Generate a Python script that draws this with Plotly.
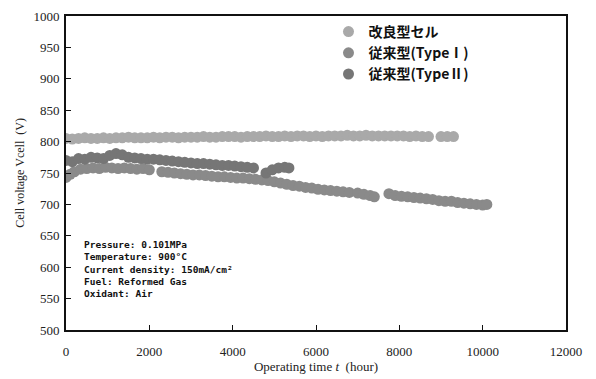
import plotly.graph_objects as go

# 改良型セル
hours_a = [0, 150, 300, 450, 600, 750, 900, 1050, 1200, 1350, 1500, 1650, 1800, 1950,
           2100, 2250, 2400, 2550, 2700, 2850, 3000, 3150, 3300, 3450, 3600, 3750, 3900,
           4050, 4200, 4350, 4500, 4650, 4800, 4950, 5100, 5250, 5400, 5550, 5700, 5850,
           6000, 6150, 6300, 6450, 6600, 6750, 6900, 7050, 7200, 7350, 7500, 7650, 7800,
           7950, 8100, 8250, 8400, 8550, 8700, 9000, 9150, 9300]
volt_a = [805, 804, 805, 806, 805, 805, 806, 805, 806, 806, 807, 806, 806, 806,
          807, 806, 807, 807, 806, 807, 807, 807, 808, 807, 807, 808, 808,
          808, 807, 808, 808, 808, 809, 808, 808, 809, 808, 809, 809, 808,
          809, 808, 809, 809, 809, 810, 809, 809, 810, 809, 809, 809, 809,
          809, 809, 808, 809, 808, 808, 808, 808, 808]

# 従来型(Type I)
hours_b = [0, 100, 200, 350, 500, 650, 800, 950, 1100, 1250, 1400, 1550, 1700, 1850, 2000,
           2300, 2450, 2600, 2750, 2900, 3050, 3200, 3350, 3500, 3650, 3800, 3950, 4100,
           4250, 4400, 4550, 4700, 4850, 5000, 5150, 5300, 5450, 5600, 5750, 5900, 6050,
           6200, 6350, 6500, 6650, 6800, 7000, 7150, 7300, 7400,
           7750, 7900, 8050, 8200, 8350, 8500, 8650, 8800, 8950, 9100, 9250, 9400, 9550,
           9700, 9850, 10000, 10100]
volt_b = [743, 748, 752, 756, 757, 758, 757, 759, 758, 757, 758, 757, 756, 757, 755,
          752, 751, 750, 749, 748, 747, 747, 746, 745, 744, 744, 743, 742,
          742, 741, 740, 739, 738, 736, 734, 732, 730, 729, 727, 726, 724,
          723, 722, 721, 720, 719, 718, 716, 714, 712,
          717, 714, 713, 712, 711, 710, 709, 708, 706, 705, 705, 703, 702,
          701, 700, 699, 700]

# 従来型(Type II)
hours_c = [0, 150, 300, 450, 600, 750, 900, 1050, 1200, 1350, 1500, 1650, 1800, 1950,
           2100, 2250, 2400, 2550, 2700, 2850, 3000, 3150, 3300, 3450, 3600, 3750, 3900,
           4050, 4200, 4350, 4500, 4800, 4950, 5100, 5250, 5350]
volt_c = [770, 768, 773, 772, 775, 774, 773, 778, 781, 779, 775, 774, 773, 772,
          772, 771, 770, 769, 768, 767, 766, 765, 765, 764, 763, 762, 762,
          761, 760, 759, 758, 750, 755, 758, 759, 758]

names = ["<b>改良型セル</b>", "<b>従来型(TypeⅠ)</b>", "<b>従来型(TypeⅡ)</b>"]
x_ticks = [0, 2000, 4000, 6000, 8000, 10000, 12000]
x_tick_text = ["0", "2000", "4000", "6000", "8000", "10000", "12000"]
y_ticks = [500, 550, 600, 650, 700, 750, 800, 850, 900, 950, 1000]

conditions = ["Pressure: 0.101MPa", "Temperature: 900°C", "Current density: 150mA/cm²",
              "Fuel: Reformed Gas", "Oxidant: Air"]

colors = ["#a9a9a9", "#8a8a8a", "#767676"]

fig = go.Figure()
for hx, vy, nm, col in [(hours_a, volt_a, names[0], colors[0]),
                        (hours_b, volt_b, names[1], colors[1]),
                        (hours_c, volt_c, names[2], colors[2])]:
    fig.add_trace(go.Scatter(x=hx, y=vy, mode="markers", name=nm,
                             marker=dict(size=11, color=col, line=dict(width=0))))

fig.add_annotation(x=0.032, y=0.297, xref="paper", yref="paper", xanchor="left", yanchor="top",
                   text="<br>".join("<b>" + c + "</b>" for c in conditions),
                   showarrow=False, align="left",
                   font=dict(family="DejaVu Sans Mono", size=9.5, color="#111"))

serif = "Liberation Serif"
fig.update_layout(
    width=596, height=379,
    margin=dict(l=66, r=30, t=9, b=47),
    paper_bgcolor="white", plot_bgcolor="white",
    showlegend=True,
    legend=dict(x=0.525, y=1.0, xanchor="left", yanchor="top",
                bgcolor="rgba(0,0,0,0)", tracegroupgap=0,
                font=dict(family="Noto Sans CJK JP", size=14, color="#111"),
                itemwidth=30),
    xaxis=dict(range=[0, 12000], tickvals=x_ticks, ticktext=x_tick_text,
               ticks="inside", ticklen=5, tickcolor="#111",
               showline=True, linecolor="#111", linewidth=2, mirror=True,
               showgrid=False, zeroline=False, ticklabelstandoff=8,
               tickfont=dict(family=serif, size=13, color="#222"),
               title=dict(text="Operating time <i>t</i>  (hour)", standoff=2,
                          font=dict(family=serif, size=13, color="#222"))),
    yaxis=dict(range=[500, 1000], tickvals=y_ticks,
               ticks="inside", ticklen=5, tickcolor="#111",
               showline=True, linecolor="#111", linewidth=2, mirror=True,
               showgrid=False, zeroline=False, ticklabelstandoff=2,
               tickfont=dict(family=serif, size=13, color="#222"),
               title=dict(text="Cell voltage Vcell  (V)", standoff=6,
                          font=dict(family=serif, size=12, color="#222"))),
)

fig.write_html("out.html", config={"displayModeBar": False},
               post_script="document.body.style.margin='0';document.body.style.overflow='hidden';")
